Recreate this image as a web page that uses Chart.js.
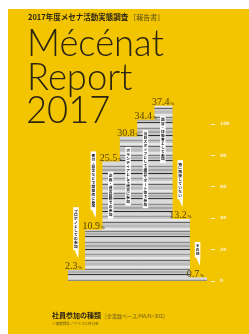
<!DOCTYPE html>
<html>
<head>
<meta charset="utf-8">
<script src="https://cdn.jsdelivr.net/npm/chart.js@4"></script>
<style>
html, body { margin: 0; padding: 0; background: #fff; overflow: hidden; }
#wrap { width: 249px; height: 334px; position: relative; }
</style>
</head>
<body>
<div id="wrap"><canvas id="cover"></canvas></div>
<script>
// 社員参加の種類 (MA)
var categories = [
  'プロボノとしての参加',
  '寄付・募金などで間接的に参加',
  '企画・運営段階での参加',
  'ボランティアとして運営に参加',
  '当日スタッフとして運営サポート等で参加',
  '鑑賞・体験者として参加',
  '特に把握していない',
  'その他'
];
var shares = [2.3, 10.9, 25.5, 30.8, 34.4, 37.4, 13.2, 0.7];
var axisTicks = [0, 20, 40, 60, 80, 100];

var YELLOW = '#f3c400';
var INK = '#2b2410';
var OLIVE = '#574400';

var canvas = document.getElementById('cover');

// grey striped fill for the bars
function stripePattern() {
  var c = document.createElement('canvas');
  c.width = 8; c.height = 38;
  var g = c.getContext('2d');
  g.fillStyle = '#c8c8c8';
  g.fillRect(0, 0, 8, 38);
  var rows = [
    [0, '#e6e6e6', 2], [3, '#7c7c7c', 1], [5, '#b0b0b0', 2], [8, '#383838', 1],
    [10, '#dadada', 3], [14, '#8c8c8c', 1], [17, '#a6a6a6', 2], [21, '#2c2c2c', 1],
    [23, '#d6d6d6', 2], [26, '#989898', 1], [29, '#e8e8e8', 2], [32, '#666', 1],
    [35, '#bbbbbb', 2]
  ];
  rows.forEach(function (r) {
    g.fillStyle = r[1];
    g.fillRect(0, r[0], 8, r[2]);
  });
  return canvas.getContext('2d').createPattern(c, 'repeat');
}

var coverArt = {
  id: 'coverArt',
  beforeDraw: function (chart) {
    var ctx = chart.ctx;
    ctx.save();
    ctx.fillStyle = '#fff';
    ctx.fillRect(0, 0, chart.width, chart.height);
    ctx.fillStyle = YELLOW;
    ctx.fillRect(8, 9, chart.width - 8, chart.height - 9);

    // small heading
    ctx.fillStyle = INK;
    ctx.textBaseline = 'alphabetic';
    ctx.font = 'bold 7.5px "Noto Sans CJK JP"';
    var head = '2017年度メセナ活動実態調査';
    ctx.fillText(head, 28, 20);
    var hw = ctx.measureText(head).width;
    ctx.font = '7px "Noto Sans CJK JP"';
    ctx.fillStyle = '#5a4a10';
    ctx.fillText('［報告書］', 28 + hw + 1, 20);

    // big title
    ctx.fillStyle = INK;
    ctx.font = '300 100px Lato';
    var size = 100 * 137 / ctx.measureText('Mécénat').width;
    ctx.font = '300 ' + size + 'px Lato';
    ctx.fillText('Mécénat', 27, 56);
    ctx.fillText('Report', 27, 90);
    ctx.fillText('2017', 26, 123);

    // footer
    ctx.font = 'bold 7px "Noto Sans CJK JP"';
    ctx.fillStyle = INK;
    var foot = '社員参加の種類';
    ctx.fillText(foot, 52, 318);
    var fw = ctx.measureText(foot).width;
    ctx.font = '5px "Noto Sans CJK JP"';
    ctx.fillStyle = '#6a5a18';
    ctx.fillText('［企業数ベース/MA/N=302］', 52 + fw + 1, 318);
    ctx.font = '3.6px "Noto Sans CJK JP"';
    ctx.fillText('※複数回答／グラフは百分率', 52, 324.5);
    ctx.restore();
  }
};

var barNotes = {
  id: 'barNotes',
  afterDatasetsDraw: function (chart) {
    var ctx = chart.ctx;
    var meta = chart.getDatasetMeta(0);
    meta.data.forEach(function (bar, i) {
      var left = bar.x - bar.width / 2;
      ctx.save();

      // white vertical note with tail
      var text = categories[i];
      var step = 3.9, bw = 5.5;
      var bh = text.length * step + 4;
      var bx = left + bar.width * 0.3;
      var inside = shares[i] > 20;
      var by = inside ? bar.y + 10 : bar.y - 20 - bh;
      ctx.fillStyle = '#fff';
      ctx.fillRect(bx, by, bw, bh);
      if (!inside) {
        ctx.beginPath();
        ctx.moveTo(bx + 1.5, by + bh);
        ctx.lineTo(bx + bw, by + bh);
        ctx.lineTo(bx + bw - 0.5, by + bh + 8);
        ctx.closePath();
        ctx.fill();
      }
      ctx.fillStyle = '#111';
      ctx.font = 'bold 3.7px "Noto Sans CJK JP"';
      ctx.textAlign = 'center';
      ctx.textBaseline = 'middle';
      for (var k = 0; k < text.length; k++) {
        var ch = text[k];
        var cy = by + 2 + step * (k + 0.5);
        if (ch === 'ー') {
          ctx.save();
          ctx.translate(bx + bw / 2, cy);
          ctx.rotate(Math.PI / 2);
          ctx.fillText(ch, 0, 0);
          ctx.restore();
        } else {
          ctx.fillText(ch, bx + bw / 2, cy);
        }
      }

      // value label
      ctx.fillStyle = OLIVE;
      ctx.textAlign = 'left';
      ctx.textBaseline = 'alphabetic';
      ctx.font = '10px "Liberation Serif"';
      var num = shares[i].toFixed(1);
      var tx = left - 3;
      ctx.fillText(num, tx, bar.y - 1);
      var w = ctx.measureText(num).width;
      ctx.font = 'bold 4.5px "Liberation Serif"';
      ctx.fillText('%', tx + w + 0.5, bar.y - 1);
      ctx.restore();
    });
  }
};

new Chart(canvas, {
  type: 'bar',
  data: {
    labels: categories,
    datasets: [{
      data: shares,
      backgroundColor: stripePattern(),
      borderWidth: 0,
      barPercentage: 1,
      categoryPercentage: 1
    }]
  },
  options: {
    responsive: true,
    maintainAspectRatio: false,
    animation: false,
    devicePixelRatio: 1,
    layout: { padding: { left: 68, top: 100, right: 18, bottom: 53 } },
    plugins: {
      legend: { display: false },
      tooltip: { enabled: false }
    },
    scales: {
      x: { display: false },
      y: { display: false, min: 0, max: 38.7 },
      y2: {
        position: 'right',
        min: 0,
        max: 115.4,
        afterBuildTicks: function (scale) {
          scale.ticks = axisTicks.map(function (v) { return { value: v }; });
        },
        afterFit: function (scale) { scale.width = 24; },
        border: { display: false },
        grid: {
          drawOnChartArea: false,
          drawTicks: true,
          tickLength: 8,
          tickColor: 'rgba(255,255,255,0.75)',
          tickWidth: 1,
          tickBorderDash: [4, 4],
          tickBorderDashOffset: 4
        },
        ticks: {
          color: 'rgba(255,255,255,0.8)',
          padding: 5,
          font: { size: 4.5, weight: 'bold', family: 'DejaVu Sans' }
        }
      }
    }
  },
  plugins: [coverArt, barNotes]
});
</script>
</body>
</html>
